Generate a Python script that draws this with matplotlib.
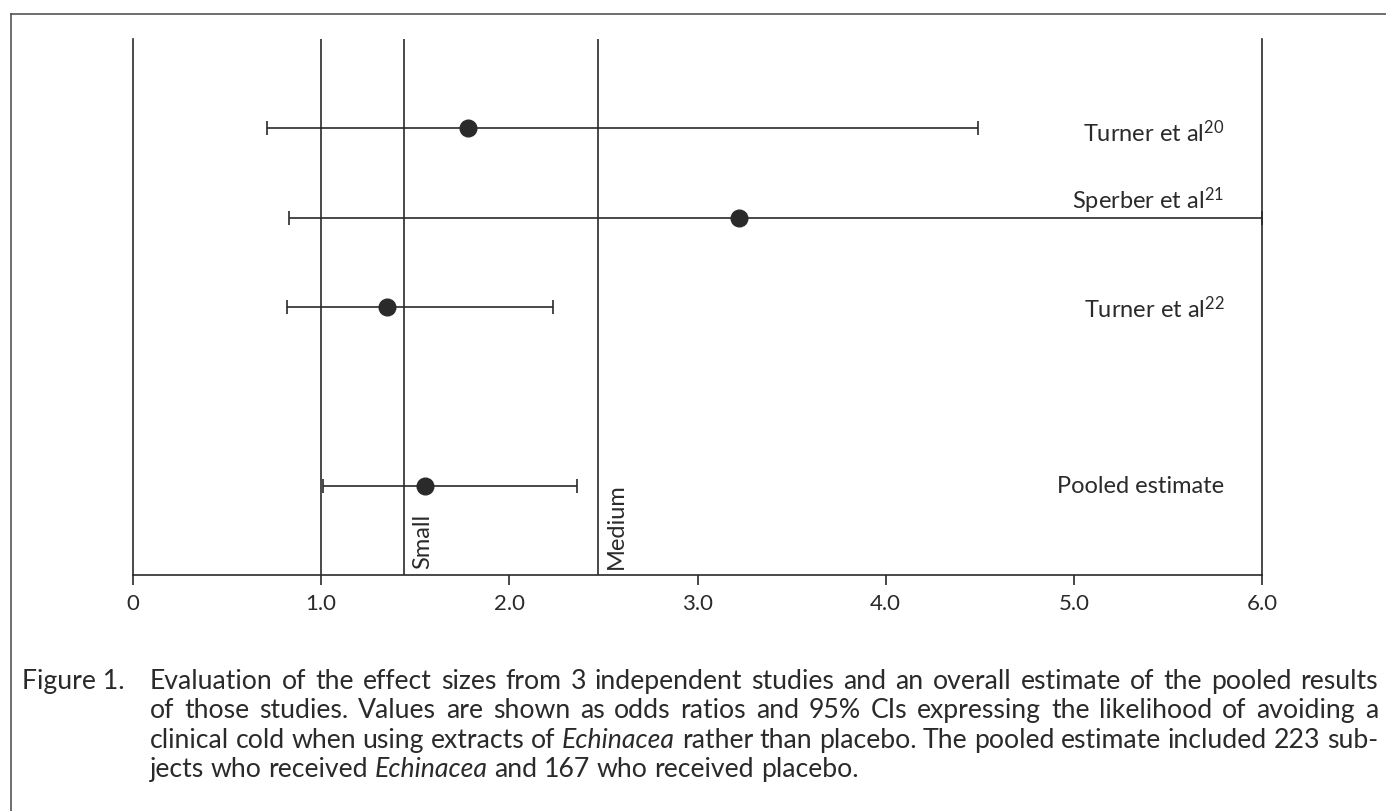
import matplotlib
matplotlib.use("Agg")
import matplotlib.pyplot as plt
from matplotlib.lines import Line2D

plt.rcParams["font.family"] = ["Lato", "DejaVu Sans"]
plt.rcParams["mathtext.fontset"] = "custom"
plt.rcParams["mathtext.rm"] = "Lato"
plt.rcParams["mathtext.it"] = "Lato:italic"

# data (odds ratios and 95% CI)
studies = ["Turner et al$^{\\mathregular{20}}$", "Sperber et al$^{\\mathregular{21}}$",
           "Turner et al$^{\\mathregular{22}}$", "Pooled estimate"]
odds_ratio = [1.78, 3.22, 1.35, 1.55]
ci_low = [0.71, 0.83, 0.82, 1.01]
ci_high = [4.49, 6.0, 2.23, 2.36]
rows = [5, 4, 3, 1]
label_dy = [-0.04, 0.2, -0.01, 0.0]

effect_lines = [1.44, 2.47]
effect_names = ["Small", "Medium"]
ticks = [0, 1, 2, 3, 4, 5, 6]
tick_labels = ["0", "1.0", "2.0", "3.0", "4.0", "5.0", "6.0"]

caption = [
    [("Evaluation of the effect sizes from 3 independent studies and an overall estimate of the pooled results", False)],
    [("of those studies. Values are shown as odds ratios and 95% CIs expressing the likelihood of avoiding a", False)],
    [("clinical cold when using extracts of", False), ("Echinacea", True),
     ("rather than placebo. The pooled estimate included 223 sub-", False)],
    [("jects who received", False), ("Echinacea", True), ("and 167 who received placebo.", False)],
]

W, H = 1386, 812
ink = "#2a2a2a"

fig = plt.figure(figsize=(W / 100, H / 100), dpi=100)
ax = fig.add_axes([133 / W, 1 - 576 / H, (1262 - 133) / W, (576 - 40) / H])

ax.errorbar(odds_ratio, rows,
            xerr=[[o - l for o, l in zip(odds_ratio, ci_low)],
                  [h - o for o, h in zip(odds_ratio, ci_high)]],
            fmt="o", color=ink, ecolor=ink, markersize=12, elinewidth=1.2,
            capsize=5, capthick=1.2, zorder=3)

ax.axvline(1.0, color=ink, lw=1.2)
for xv, name in zip(effect_lines, effect_names):
    ax.axvline(xv, color=ink, lw=1.2)
    ax.annotate(name, (xv, 0), xytext=(6, 5), textcoords="offset points",
                rotation=90, ha="left", va="bottom", fontsize=17, color=ink)

for name, y, dy in zip(studies, rows, label_dy):
    ax.text(5.80, y + dy, name, ha="right", va="center", fontsize=17, color=ink)

ax.set_xlim(0, 6)
ax.set_ylim(0, 6)
ax.set_xticks(ticks)
ax.set_xticklabels(tick_labels, fontsize=16, color=ink)
ax.set_yticks([])
ax.tick_params(axis="x", length=7, width=1.2, color=ink, pad=6)
ax.spines["top"].set_visible(False)
for s in ["left", "right", "bottom"]:
    ax.spines[s].set_color(ink)
    ax.spines[s].set_linewidth(1.2)

# outer frame
fig.add_artist(Line2D([11 / W, 1], [1 - 15 / H, 1 - 15 / H], color="#555555", lw=1.2))
fig.add_artist(Line2D([11 / W, 11 / W], [0, 1 - 15 / H], color="#555555", lw=1.2))

# caption, justified like the print
renderer = fig.canvas.get_renderer()
x_left, x_right = 150, 1378


def split_words(tokens):
    words = []
    for chunk, italic in tokens:
        for w in chunk.split(" "):
            words.append((w, italic))
    return words


def natural_width(tokens, size):
    words = split_words(tokens)
    total = 0
    for w, it in words:
        t = fig.text(0, 0, w, fontsize=size, style="italic" if it else "normal")
        total += t.get_window_extent(renderer).width
        t.remove()
    return total + 0.25 * size * 100 / 72 * (len(words) - 1)


# pick the size so the longest line fits the column with normal spacing
size = min((x_right - x_left) * 10 / natural_width(line, 10) for line in caption[:-1])

fig.text(22 / W, 1 - 689 / H, "Figure 1.", fontsize=size, color=ink, va="baseline")


def draw_line(tokens, y_px, justify):
    words = split_words(tokens)
    texts = [fig.text(0, 1 - y_px / H, w, fontsize=size, color=ink, va="baseline",
                      style="italic" if it else "normal") for w, it in words]
    widths = [t.get_window_extent(renderer).width for t in texts]
    if justify:
        gap = (x_right - x_left - sum(widths)) / (len(texts) - 1)
    else:
        gap = 0.25 * size * 100 / 72
    x = x_left
    for t, w in zip(texts, widths):
        t.set_x(x / W)
        x += w + gap


for i, line in enumerate(caption):
    draw_line(line, 689 + 29.5 * i, i < len(caption) - 1)

fig.savefig("out.png", dpi=100)
